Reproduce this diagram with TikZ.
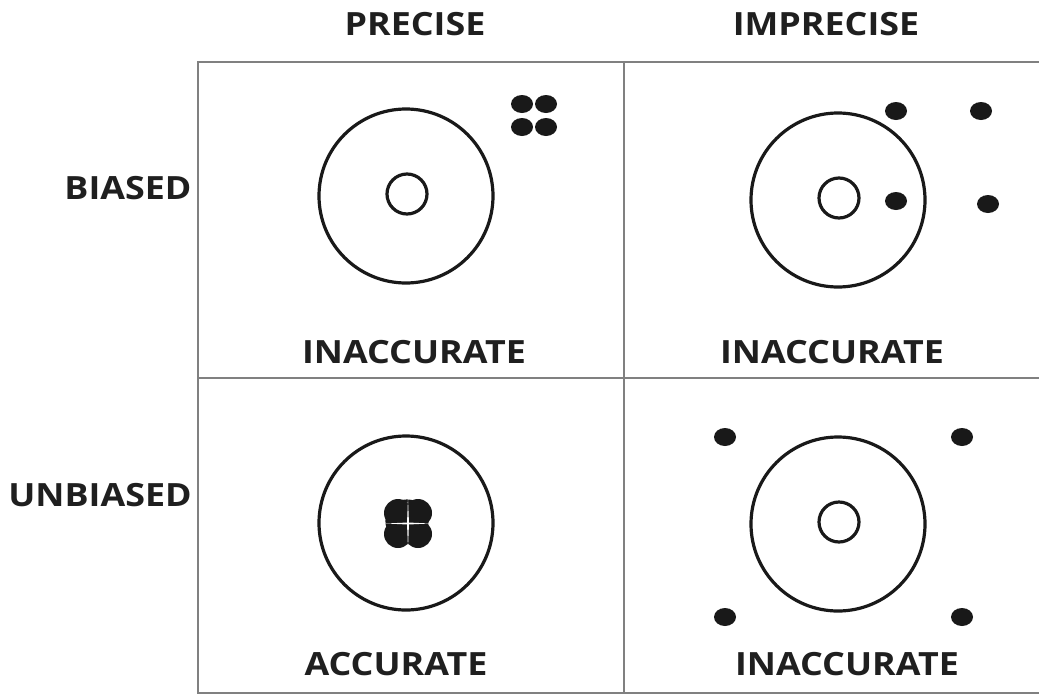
\documentclass[tikz,border=0pt]{standalone}
\usepackage{fontspec}
\setmainfont{Open Sans}[FakeStretch=1.12]
\usetikzlibrary{positioning}

\begin{document}
\begin{tikzpicture}
  [x=1pt, y=-1pt,
   label/.style={font=\bfseries\fontsize{32}{32}\selectfont, text=black!88, inner sep=0pt},
   frame/.style={draw=black!50, line width=2.6pt},
   ring/.style={draw=black!90, line width=3.2pt},
   hit/.style={fill=black!90}
  ]
  \useasboundingbox (0,0) rectangle (1039,694);

  % grid
  \draw[frame] (1039,62) -- (198,62) -- (198,694);
  \draw[frame] (624,62) -- (624,694);
  \draw[frame] (198,378) -- (1039,378);
  \draw[frame] (198,693) -- (1039,693);

  % column and row titles
  \node[label] (precise)   at (415,24)  {PRECISE};
  \node[label] (imprecise) at (826,24)  {IMPRECISE};
  \node[label] (biased)    at (128,188) {BIASED};
  \node[label] (unbiased)  at (100,495) {UNBIASED};

  % targets
  \foreach \cx/\cy/\name in {406/196/tl, 838/200/tr, 406/523/bl, 838/524/br}{
    \draw[ring] (\cx,\cy) circle (87);
    \draw[ring] (\cx+1,\cy-2) circle (20);
  }

  % shots, biased and precise
  \foreach \px/\py in {522/104, 546/104, 522/127, 546/127}
    \fill[hit] (\px,\py) ellipse (11 and 9);
  % shots, biased and imprecise
  \foreach \px/\py in {896/111, 981/111, 896/201, 988/204}
    \fill[hit] (\px,\py) ellipse (11 and 9);
  % shots, unbiased and precise
  \foreach \px/\py in {398/513, 418/513, 398/534, 418/534}
    \fill[hit] (\px,\py) circle (14);
  \fill[white] (386,523.5) -- (408,522.5) -- (430,523.5) -- (408,524.5) -- cycle;
  \fill[white] (408,499) -- (409,523.5) -- (408,548) -- (407,523.5) -- cycle;
  % shots, unbiased and imprecise
  \foreach \px/\py in {725/437, 962/437, 725/617, 962/617}
    \fill[hit] (\px,\py) ellipse (11 and 9);

  % verdicts
  \node[label] (tlverdict) at (414,352) {INACCURATE};
  \node[label] (trverdict) at (832,352) {INACCURATE};
  \node[label] (blverdict) at (396,664) {ACCURATE};
  \node[label] (brverdict) at (847,664) {INACCURATE};
\end{tikzpicture}
\end{document}
